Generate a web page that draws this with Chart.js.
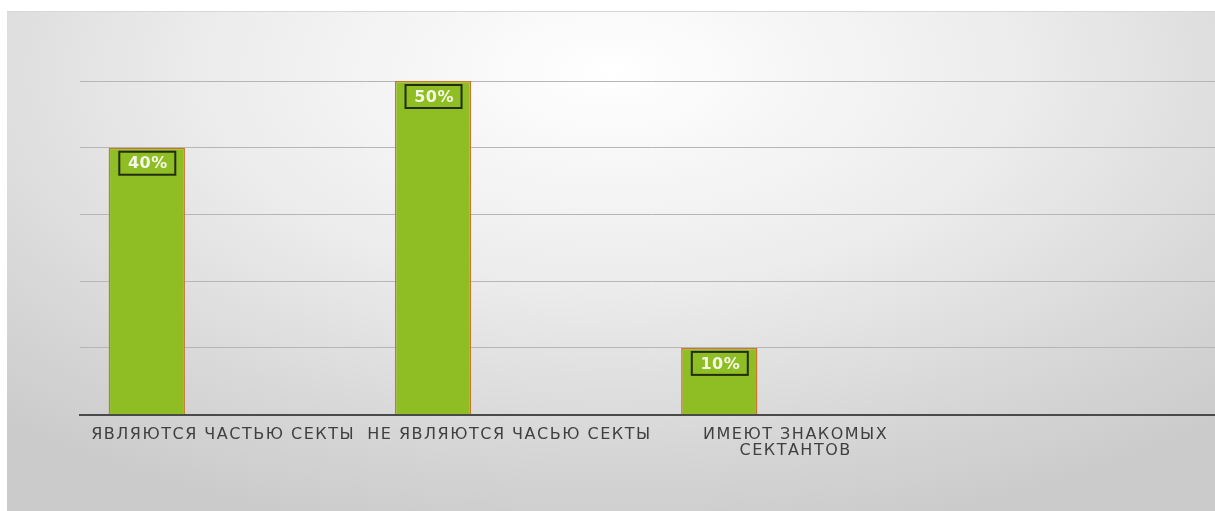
<!DOCTYPE html>
<html>
<head>
<meta charset="utf-8">
<script src="https://cdn.jsdelivr.net/npm/chart.js@4/dist/chart.umd.min.js"></script>
<style>
  html, body { margin: 0; padding: 0; background: #fff; overflow: hidden; }
  #slide {
    position: absolute; left: 7px; top: 11px; width: 1208px; height: 500px;
    background: radial-gradient(ellipse 75% 95% at 50% 12%, #ffffff 0%, #ececec 45%, #d6d6d6 80%, #cbcbcb 100%);
    border-top: 1px solid #d8d8d8;
  }
  #wrap { position: absolute; left: 0; top: 0; width: 1235px; height: 511px; }
</style>
</head>
<body>
<div id="slide"></div>
<div id="wrap"><canvas id="chart"></canvas></div>
<script>
// categories and values (percent)
const categories = [
  "ЯВЛЯЮТСЯ ЧАСТЬЮ СЕКТЫ",
  "НЕ ЯВЛЯЮТСЯ ЧАСЬЮ СЕКТЫ",
  ["ИМЕЮТ ЗНАКОМЫХ", "СЕКТАНТОВ"],
  ""
];
const series1 = [40, 50, 10, null];
const series2 = [null, null, null, null];
const series3 = [null, null, null, null];
const yTicks = [0, 10, 20, 30, 40, 50];

// wide lettering like the original slide font
const spacing = {
  id: "spacing",
  beforeDraw(chart) { chart.ctx.letterSpacing = "1.5px"; }
};

// boxed labels drawn at the top inside each bar
const boxLabels = {
  id: "boxLabels",
  afterDatasetsDraw(chart) {
    const ctx = chart.ctx;
    const meta = chart.getDatasetMeta(0);
    ctx.save();
    ctx.letterSpacing = "0.5px";
    ctx.font = "bold 16px 'DejaVu Sans'";
    ctx.textAlign = "center";
    ctx.textBaseline = "middle";
    meta.data.forEach((bar, i) => {
      const v = series1[i];
      if (v == null) return;
      const w = 56, h = 23;
      const x = bar.x - w / 2 + 0.5, y = bar.y + 4;
      ctx.fillStyle = "#8fbd24";
      ctx.fillRect(x, y, w, h);
      ctx.lineWidth = 2;
      ctx.strokeStyle = "#222c0e";
      ctx.strokeRect(x, y, w, h);
      ctx.fillStyle = "#f4f8e8";
      ctx.fillText(v + "%", bar.x + 1, y + h / 2 + 1);
    });
    ctx.restore();
  }
};

new Chart(document.getElementById("chart"), {
  type: "bar",
  data: {
    labels: categories,
    datasets: [
      { label: "Ряд 1", data: series1, backgroundColor: "#8fbd24", borderColor: "#c8782a", borderWidth: 1.5 },
      { label: "Ряд 2", data: series2 },
      { label: "Ряд 3", data: series3 }
    ]
  },
  options: {
    responsive: true,
    maintainAspectRatio: false,
    animation: false,
    categoryPercentage: 0.8,
    barPercentage: 1.0,
    layout: { padding: { left: 80, right: 10, top: 81, bottom: 48 } },
    plugins: { legend: { display: false }, tooltip: { enabled: false } },
    scales: {
      x: {
        grid: { display: false },
        border: { display: true, color: "#4a4a4a", width: 2 },
        ticks: {
          color: "#404040",
          font: { family: "'DejaVu Sans'", size: 16, lineHeight: 0.95 },
          padding: 5,
          maxRotation: 0,
          autoSkip: false
        }
      },
      y: {
        min: yTicks[0],
        max: yTicks[yTicks.length - 1],
        afterBuildTicks(axis) { axis.ticks = yTicks.map(v => ({ value: v })); },
        ticks: { display: false },
        grid: { color: "#b6b6b6", lineWidth: 1, drawTicks: false },
        border: { display: false }
      }
    }
  },
  plugins: [spacing, boxLabels]
});
</script>
</body>
</html>
